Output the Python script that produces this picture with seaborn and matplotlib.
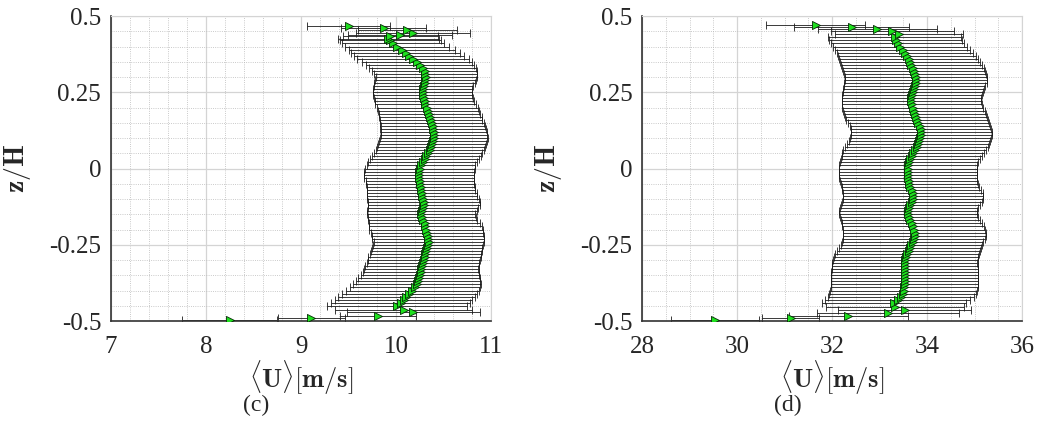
import matplotlib
matplotlib.use("Agg")
import matplotlib.pyplot as plt
import seaborn as sns
from matplotlib.ticker import MultipleLocator

# panel (c): z/H positions, mean velocity and error half-widths
z_c = [-0.497, -0.491, -0.484, -0.469, -0.464,
       -0.45, -0.44, -0.43, -0.42, -0.41, -0.40, -0.39, -0.38, -0.37, -0.36,
       -0.35, -0.34, -0.33, -0.32, -0.31, -0.30, -0.29, -0.28, -0.27, -0.26,
       -0.25, -0.24, -0.23, -0.22, -0.21, -0.20, -0.19, -0.18, -0.17, -0.16,
       -0.15, -0.14, -0.13, -0.12, -0.11, -0.10, -0.09, -0.08, -0.07, -0.06,
       -0.05, -0.04, -0.03, -0.02, -0.01, 0.00, 0.01, 0.02, 0.03, 0.04,
       0.05, 0.06, 0.07, 0.08, 0.09, 0.10, 0.11, 0.12, 0.13, 0.14,
       0.15, 0.16, 0.17, 0.18, 0.19, 0.20, 0.21, 0.22, 0.23, 0.24,
       0.25, 0.26, 0.27, 0.28, 0.29, 0.30, 0.31, 0.32, 0.33, 0.34,
       0.35, 0.36, 0.37, 0.38, 0.39, 0.40, 0.41, 0.42,
       0.426, 0.433, 0.439, 0.445, 0.453, 0.461, 0.466]
u_c = [8.25, 9.11, 9.81, 10.18, 10.08,
       10.01, 10.05, 10.08, 10.11, 10.14, 10.17, 10.20, 10.22, 10.23, 10.24,
       10.25, 10.26, 10.26, 10.27, 10.28, 10.29, 10.30, 10.31, 10.32, 10.33,
       10.34, 10.35, 10.34, 10.34, 10.33, 10.32, 10.31, 10.30, 10.28, 10.27,
       10.26, 10.27, 10.28, 10.29, 10.29, 10.28, 10.27, 10.27, 10.26, 10.26,
       10.25, 10.25, 10.24, 10.24, 10.24, 10.25, 10.26, 10.28, 10.30, 10.32,
       10.34, 10.36, 10.37, 10.38, 10.39, 10.40, 10.40, 10.40, 10.39, 10.39,
       10.38, 10.37, 10.36, 10.35, 10.34, 10.33, 10.31, 10.30, 10.29, 10.28,
       10.28, 10.28, 10.29, 10.30, 10.31, 10.32, 10.31, 10.30, 10.28, 10.25,
       10.22, 10.18, 10.14, 10.10, 10.06, 10.01, 9.97, 9.94,
       9.92, 9.94, 10.04, 10.18, 10.12, 9.87, 9.50]
err_c = [0.50, 0.35, 0.40, 0.70, 0.72,
         0.74, 0.73, 0.72, 0.72, 0.71, 0.70, 0.68, 0.67, 0.65, 0.64,
         0.62, 0.61, 0.60, 0.60, 0.59, 0.59, 0.59, 0.58, 0.58, 0.58,
         0.58, 0.58, 0.59, 0.59, 0.59, 0.60, 0.59, 0.58, 0.57, 0.57,
         0.57, 0.58, 0.58, 0.59, 0.59, 0.59, 0.58, 0.58, 0.57, 0.57,
         0.57, 0.57, 0.58, 0.58, 0.58, 0.58, 0.57, 0.57, 0.57, 0.57,
         0.57, 0.57, 0.57, 0.57, 0.57, 0.57, 0.56, 0.56, 0.56, 0.55,
         0.55, 0.54, 0.54, 0.53, 0.53, 0.53, 0.53, 0.52, 0.52, 0.52,
         0.52, 0.52, 0.52, 0.53, 0.53, 0.53, 0.54, 0.55, 0.56, 0.57,
         0.58, 0.59, 0.58, 0.57, 0.56, 0.55, 0.54, 0.53,
         0.53, 0.50, 0.55, 0.60, 0.52, 0.45, 0.44]

# panel (d)
z_d = [-0.498, -0.491, -0.483, -0.475, -0.464, -0.453,
       -0.44, -0.43, -0.42, -0.41, -0.40, -0.39, -0.38, -0.37, -0.36, -0.35,
       -0.34, -0.33, -0.32, -0.31, -0.30, -0.29, -0.28, -0.27, -0.26, -0.25,
       -0.24, -0.23, -0.22, -0.21, -0.20, -0.19, -0.18, -0.17, -0.16, -0.15,
       -0.14, -0.13, -0.12, -0.11, -0.10, -0.09, -0.08, -0.07, -0.06, -0.05,
       -0.04, -0.03, -0.02, -0.01, 0.00, 0.01, 0.02, 0.03, 0.04, 0.05,
       0.06, 0.07, 0.08, 0.09, 0.10, 0.11, 0.12, 0.13, 0.14, 0.15,
       0.16, 0.17, 0.18, 0.19, 0.20, 0.21, 0.22, 0.23, 0.24, 0.25,
       0.26, 0.27, 0.28, 0.29, 0.30, 0.31, 0.32, 0.33, 0.34, 0.35,
       0.36, 0.37, 0.38, 0.39, 0.40, 0.41, 0.42, 0.43,
       0.442, 0.450, 0.456, 0.464, 0.472]
u_d = [29.54, 31.13, 32.34, 33.18, 33.53, 33.32,
       33.30, 33.38, 33.45, 33.49, 33.51, 33.52, 33.53, 33.53, 33.53, 33.53,
       33.53, 33.53, 33.53, 33.53, 33.54, 33.56, 33.58, 33.61, 33.64, 33.67,
       33.70, 33.73, 33.74, 33.74, 33.73, 33.71, 33.68, 33.65, 33.62, 33.60,
       33.60, 33.62, 33.65, 33.68, 33.70, 33.71, 33.70, 33.68, 33.65, 33.63,
       33.61, 33.60, 33.60, 33.60, 33.60, 33.60, 33.62, 33.65, 33.68, 33.71,
       33.74, 33.78, 33.81, 33.84, 33.86, 33.88, 33.88, 33.87, 33.85, 33.82,
       33.79, 33.77, 33.75, 33.73, 33.70, 33.68, 33.67, 33.67, 33.68, 33.70,
       33.72, 33.74, 33.76, 33.77, 33.77, 33.75, 33.73, 33.70, 33.67, 33.64,
       33.61, 33.58, 33.54, 33.49, 33.43, 33.38, 33.34, 33.32,
       33.41, 33.27, 32.95, 32.41, 31.66]
err_d = [0.93, 0.60, 1.25, 1.50, 1.40, 1.45,
         1.52, 1.53, 1.54, 1.55, 1.55, 1.55, 1.55, 1.55, 1.55, 1.55,
         1.55, 1.54, 1.54, 1.53, 1.53, 1.52, 1.51, 1.50, 1.49, 1.48,
         1.48, 1.49, 1.50, 1.50, 1.50, 1.49, 1.48, 1.47, 1.46, 1.45,
         1.45, 1.45, 1.46, 1.47, 1.47, 1.47, 1.47, 1.46, 1.45, 1.45,
         1.45, 1.45, 1.45, 1.45, 1.45, 1.45, 1.46, 1.47, 1.48, 1.49,
         1.50, 1.50, 1.50, 1.49, 1.48, 1.48, 1.48, 1.48, 1.48, 1.48,
         1.49, 1.49, 1.49, 1.49, 1.48, 1.48, 1.47, 1.47, 1.47, 1.47,
         1.48, 1.49, 1.50, 1.50, 1.50, 1.50, 1.50, 1.49, 1.48, 1.47,
         1.46, 1.45, 1.43, 1.42, 1.41, 1.40, 1.40, 1.40,
         1.35, 1.30, 1.25, 1.21, 1.04]

y_ticks = [-0.5, -0.25, 0, 0.25, 0.5]
y_labels = ["-0.5", "-0.25", "0", "0.25", "0.5"]

sns.set_style("white")
plt.rcParams["font.family"] = ["Liberation Serif", "DejaVu Serif"]
plt.rcParams["mathtext.fontset"] = "cm"

fig = plt.figure(figsize=(10.39, 4.29), dpi=100)
ax_c = fig.add_axes([0.1068, 0.2517, 0.3658, 0.7110])
ax_d = fig.add_axes([0.6179, 0.2517, 0.3658, 0.7110])


def draw_panel(ax, u, z, err, xlim, xticks, xminor, tag, tag_x):
    ax.errorbar(u, z, xerr=err, fmt="none", ecolor="#1a1a1a", elinewidth=0.6,
                capsize=3, capthick=0.6, zorder=2)
    sns.scatterplot(x=u, y=z, ax=ax, marker=">", s=34, color="#1ee01e",
                    edgecolor="#062806", linewidth=0.6, zorder=3)
    ax.set_xlim(*xlim)
    ax.set_ylim(-0.5, 0.5)
    ax.set_xticks(xticks)
    ax.set_xticklabels([str(t) for t in xticks])
    ax.set_yticks(y_ticks)
    ax.set_yticklabels(y_labels)
    ax.xaxis.set_minor_locator(MultipleLocator(xminor))
    ax.yaxis.set_minor_locator(MultipleLocator(0.05))
    ax.grid(which="major", color="#d4d4d4", linewidth=0.9, linestyle="-")
    ax.grid(which="minor", color="#b8b8b8", linewidth=0.6, linestyle=":")
    ax.set_axisbelow(True)
    ax.tick_params(which="major", direction="in", length=5, width=1,
                   labelsize=18, color="#333333")
    ax.tick_params(axis="x", which="major", pad=11)
    ax.tick_params(axis="y", which="major", pad=7)
    ax.tick_params(which="minor", length=0)
    for side in ["left", "bottom"]:
        ax.spines[side].set_color("#333333")
        ax.spines[side].set_linewidth(1.2)
    for side in ["top", "right"]:
        ax.spines[side].set_color("#d4d4d4")
        ax.spines[side].set_linewidth(0.8)
    ax.set_xlabel(r"$\langle\mathbf{U}\rangle[\mathbf{m/s}]$", fontsize=19)
    ax.set_ylabel(r"$\mathbf{z/H}$", fontsize=20)
    ax.xaxis.set_label_coords(0.5, -0.125)
    ax.yaxis.set_label_coords(-0.205, 0.5)
    fig.text(tag_x, 0.055, tag, fontsize=17, ha="center", va="center")


draw_panel(ax_c, u_c, z_c, err_c, (7, 11), [7, 8, 9, 10, 11], 0.2, "(c)", 0.2464)
draw_panel(ax_d, u_d, z_d, err_d, (28, 36), [28, 30, 32, 34, 36], 0.5, "(d)", 0.7584)

fig.savefig("out.png", dpi=100)
